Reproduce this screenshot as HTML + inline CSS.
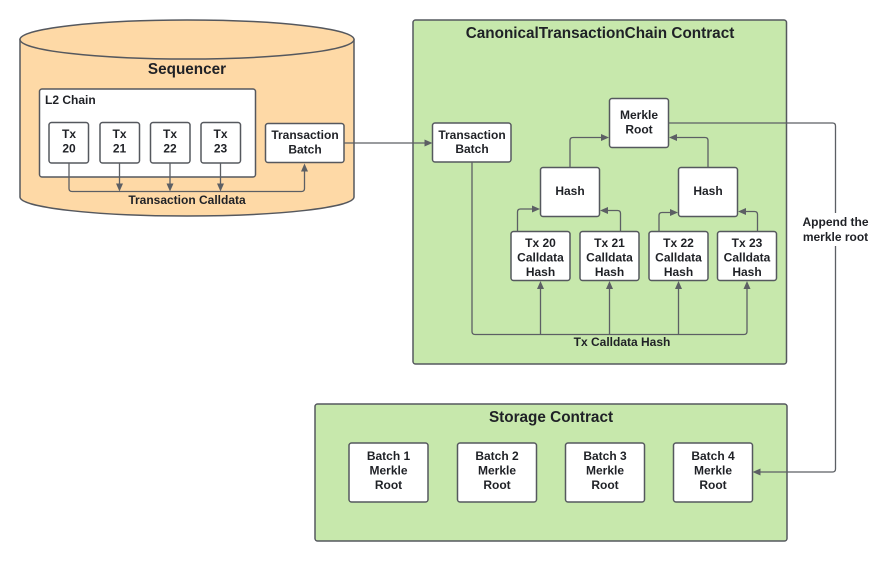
<!DOCTYPE html>
<html>
<head>
<meta charset="utf-8">
<style>
html,body{margin:0;padding:0;background:#fff;width:875px;height:561px;overflow:hidden}
svg{display:block;filter:blur(.3px)}
text{font-family:"Liberation Sans",sans-serif;font-weight:700;fill:#1f2126;text-anchor:middle}
.s{font-size:12px}
.t{font-size:15.3px}
.b{fill:#fff;stroke:#55585e;stroke-width:1.5}
.c{fill:none;stroke:#5c5f64;stroke-width:1.3}
.a{fill:#5c5f64;stroke:none}
</style>
</head>
<body>
<svg width="875" height="561" viewBox="0 0 875 561" xmlns="http://www.w3.org/2000/svg">
<!-- Sequencer cylinder -->
<path d="M20 39.5V197C20 207.5 95 216 187 216S354 207.5 354 197V39.5Z" fill="#fed9a6" stroke="#55585e" stroke-width="1.5"/>
<ellipse cx="187" cy="39.5" rx="167" ry="19.5" fill="#fed9a6" stroke="#55585e" stroke-width="1.5"/>
<text class="t" x="187" y="74">Sequencer</text>
<rect class="b" x="39.5" y="89" width="216" height="88" rx="2.5"/>
<text class="s" x="45" y="104" style="text-anchor:start">L2 Chain</text>
<rect class="b" x="49" y="122.5" width="39.5" height="40.5" rx="2.5"/>
<rect class="b" x="100" y="122.5" width="39.5" height="40.5" rx="2.5"/>
<rect class="b" x="150.5" y="122.5" width="39.5" height="40.5" rx="2.5"/>
<rect class="b" x="201" y="122.5" width="39.5" height="40.5" rx="2.5"/>
<text class="s" x="69" y="138">Tx</text><text class="s" x="69" y="152.500">20</text>
<text class="s" x="119.500" y="138">Tx</text><text class="s" x="119.500" y="152.500">21</text>
<text class="s" x="170" y="138">Tx</text><text class="s" x="170" y="152.500">22</text>
<text class="s" x="220.500" y="138">Tx</text><text class="s" x="220.500" y="152.500">23</text>
<rect class="b" x="265.500" y="123.500" width="78.500" height="39" rx="2.500"/>
<text class="s" x="305" y="139">Transaction</text><text class="s" x="305" y="153.500">Batch</text>
<path class="c" d="M69 163V188.500Q69 191.500 72 191.500H301.500Q304.500 191.500 304.500 188.500V170"/>
<path class="c" d="M119.500 163V185M170 163V185M220.500 163V185"/>
<path class="a" d="M119.500 191.500l-3.500-8h7zM170 191.500l-3.500-8h7zM220.500 191.500l-3.500-8h7zM304.500 163.500l-3.500 8h7z"/>
<text class="s" x="187" y="204">Transaction Calldata</text>

<!-- CTC contract -->
<rect x="413" y="20" width="373.500" height="344" rx="2.500" fill="#c7e8ac" stroke="#55585e" stroke-width="1.500"/>
<text class="t" x="600" y="38">CanonicalTransactionChain Contract</text>
<path class="c" d="M344 143H426"/>
<path class="a" d="M432.500 143l-8-3.500v7z"/>
<rect class="b" x="432.500" y="123" width="78.500" height="39" rx="2.500"/>
<text class="s" x="472" y="139">Transaction</text><text class="s" x="472" y="153">Batch</text>
<rect class="b" x="609.500" y="98.500" width="59" height="49" rx="2.500"/>
<text class="s" x="639" y="119">Merkle</text><text class="s" x="639" y="133.500">Root</text>
<rect class="b" x="540.500" y="167.500" width="59" height="49" rx="2.500"/>
<text class="s" x="570" y="195">Hash</text>
<rect class="b" x="678.500" y="167.500" width="59" height="49" rx="2.500"/>
<text class="s" x="708" y="195">Hash</text>
<rect class="b" x="511" y="231.500" width="59" height="49" rx="2.500"/>
<rect class="b" x="580" y="231.500" width="59" height="49" rx="2.500"/>
<rect class="b" x="649" y="231.500" width="59" height="49" rx="2.500"/>
<rect class="b" x="717.500" y="231.500" width="59" height="49" rx="2.500"/>
<text class="s" x="540.500" y="247">Tx 20</text><text class="s" x="540.500" y="261.500">Calldata</text><text class="s" x="540.500" y="276">Hash</text>
<text class="s" x="609.500" y="247">Tx 21</text><text class="s" x="609.500" y="261.500">Calldata</text><text class="s" x="609.500" y="276">Hash</text>
<text class="s" x="678.500" y="247">Tx 22</text><text class="s" x="678.500" y="261.500">Calldata</text><text class="s" x="678.500" y="276">Hash</text>
<text class="s" x="747" y="247">Tx 23</text><text class="s" x="747" y="261.500">Calldata</text><text class="s" x="747" y="276">Hash</text>
<path class="c" d="M570 167.500V140.500Q570 137.500 573 137.500H603M708 167.500V140.500Q708 137.500 705 137.500H675"/>
<path class="c" d="M517.500 231.500V212Q517.500 209 520.500 209H534M620.500 231.500V213.500Q620.500 210.500 617.500 210.500H606M659 231.500V215.500Q659 212.500 662 212.500H672M757.500 231.500V214.500Q757.500 211.500 754.500 211.500H744"/>
<path class="a" d="M609 137.500l-8-3.500v7zM669 137.500l8-3.500v7zM540 209l-8-3.500v7zM600 210.500l8-3.500v7zM678 212.500l-8-3.500v7zM738 211.500l8-3.500v7z"/>
<path class="c" d="M472 162V331.500Q472 334.500 475 334.500H744Q747 334.500 747 331.500V288M540.500 334.500V288M609.500 334.500V288M678.500 334.500V288"/>
<path class="a" d="M540.500 281l-3.500 8h7zM609.500 281l-3.500 8h7zM678.500 281l-3.500 8h7zM747 281l-3.500 8h7z"/>
<text class="s" x="622" y="346">Tx Calldata Hash</text>

<!-- Storage -->
<rect x="315" y="404" width="472" height="137" rx="2.500" fill="#c7e8ac" stroke="#55585e" stroke-width="1.500"/>
<text class="t" x="551" y="422">Storage Contract</text>
<rect class="b" x="349" y="443" width="79" height="59" rx="2.500"/>
<rect class="b" x="457.500" y="443" width="79" height="59" rx="2.500"/>
<rect class="b" x="565.500" y="443" width="79" height="59" rx="2.500"/>
<rect class="b" x="673.500" y="443" width="79" height="59" rx="2.500"/>
<text class="s" x="388.500" y="460">Batch 1</text><text class="s" x="388.500" y="474.500">Merkle</text><text class="s" x="388.500" y="489">Root</text>
<text class="s" x="497" y="460">Batch 2</text><text class="s" x="497" y="474.500">Merkle</text><text class="s" x="497" y="489">Root</text>
<text class="s" x="605" y="460">Batch 3</text><text class="s" x="605" y="474.500">Merkle</text><text class="s" x="605" y="489">Root</text>
<text class="s" x="713" y="460">Batch 4</text><text class="s" x="713" y="474.500">Merkle</text><text class="s" x="713" y="489">Root</text>

<!-- Append line, drawn above the contract panels -->
<path class="c" d="M668.500 123H832.500Q835.500 123 835.500 126V469Q835.500 472 832.500 472H759"/>
<path class="a" d="M752.500 472l8-3.500v7z"/>
<rect x="800" y="213" width="71" height="33" fill="#fff"/>
<text class="s" x="835.500" y="226">Append the</text>
<text class="s" x="835.500" y="241">merkle root</text>
</svg>
</body>
</html>
